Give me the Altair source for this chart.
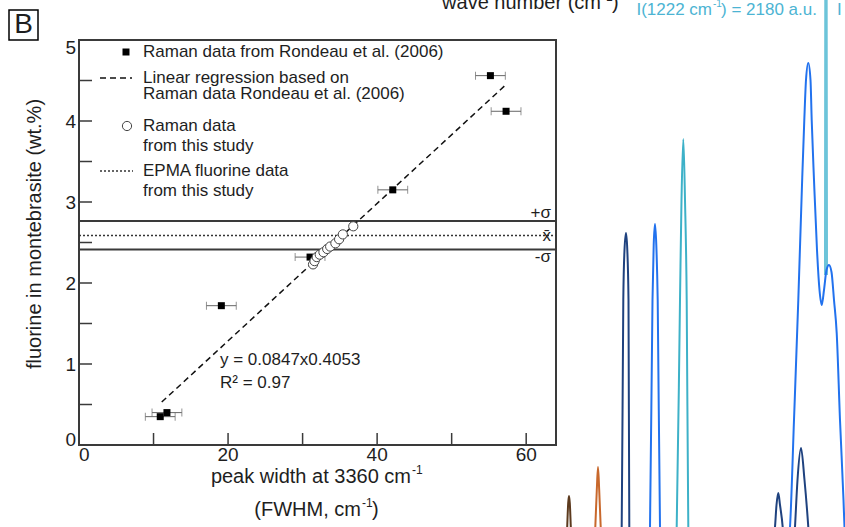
import altair as alt
import pandas as pd

FONT = "Liberation Sans"
INK = "#1e1e1e"

# ---------------- data ----------------
# Raman data from Rondeau et al. (2006)
rond_fwhm = [10.9, 11.8, 19.1, 31.0, 42.1, 55.2, 57.3]
rond_fluorine = [0.35, 0.40, 1.72, 2.32, 3.15, 4.56, 4.12]
rond_err = [2.0, 2.0, 2.0, 2.0, 2.0, 2.0, 2.0]

# Raman data from this study
study_fwhm = [31.4, 31.6, 31.9, 32.3, 32.8, 33.3, 33.7, 34.4, 34.9, 35.4, 36.8]
study_fluorine = [2.23, 2.27, 2.32, 2.35, 2.38, 2.42, 2.45, 2.49, 2.54, 2.60, 2.70]

# linear regression (end points as drawn)
reg_fwhm = [11.1, 57.3]
reg_fluorine = [0.53, 4.45]

# EPMA fluorine data: +sigma, mean, -sigma
epma_levels = [2.765, 2.585, 2.415]
epma_names = ["+σ", "x̄", "-σ"]

x_label_values = [0, 20, 40, 60]
x_tick_values = [10, 20, 30, 40, 50, 60]
y_label_values = [0, 1, 2, 3, 4, 5]
y_tick_values = [0.5, 1, 1.5, 2, 2.5, 3, 3.5, 4, 4.5]

# spectra visible at the right edge (wave number, intensity a.u.)
peak_brown_wn = [962.5, 963.2, 964.2, 965.0, 965.8, 966.8, 967.5]
peak_brown_int = [0, 36, 84, 98, 84, 36, 0]
peak_orange_wn = [990.5, 991.3, 992.8, 994.0, 995.2, 996.7, 997.5]
peak_orange_int = [0, 36, 110, 156, 110, 36, 0]
peak_navy_wn = [1017.0, 1017.7, 1019.3, 1020.5, 1022.0, 1023.3, 1024.5, 1025.3, 1026.0]
peak_navy_int = [0, 36, 490, 590, 624, 590, 490, 36, 0]
peak_blue_wn = [1045.3, 1046.0, 1048.5, 1049.7, 1051.0, 1052.3, 1053.7, 1056.0, 1056.7]
peak_blue_int = [0, 36, 490, 600, 642, 600, 490, 36, 0]
peak_cyan_wn = [1072.0, 1072.7, 1076.0, 1077.5, 1079.3, 1081.0, 1082.7, 1084.3, 1085.0]
peak_cyan_int = [0, 36, 490, 690, 812, 690, 490, 36, 0]
band_navy_wn = [1169, 1171, 1172.5, 1174.3, 1176, 1178.7, 1180, 1190, 1191, 1193.5, 1197, 1200.5, 1204.3, 1205.5]
band_navy_int = [0, 36, 80, 104, 80, 36, 0, 0, 36, 130, 194, 130, 36, 0]
band_blue_wn = [1184.5, 1186, 1190, 1194.3, 1198, 1200.3, 1202, 1204.3, 1206.5, 1207.7, 1210, 1213,
                1215.5, 1217.7, 1220, 1222.5, 1225, 1227.5, 1230, 1232.7, 1236, 1239.5, 1240.5, 1242]
band_blue_int = [0, 36, 250, 490, 720, 850, 930, 964, 930, 850, 730, 590,
                 510, 480, 510, 550, 560, 546, 490, 424, 250, 90, 36, 0]
band_cyan_wn = [1221.0, 1222.0, 1223.0]
band_cyan_int = [540, 2180, 540]

spec_names = ["brown", "orange", "navy", "blue", "cyan", "cyan2"]
spec_colors = ["#5c3a1e", "#c8682c", "#1f427f", "#2272ee", "#3db1c8", "#6cc4d9"]

# ---------------- layout ----------------
W, H = 477, 405
PAD = {"left": 79, "top": 40, "right": 289, "bottom": 82}

xs = alt.Scale(domain=[0, 64], nice=False, zero=False)
ys = alt.Scale(domain=[0, 5], nice=False, zero=False)

one = pd.DataFrame({"a": [0]})


def txt(s, x, y, size=17, align="left", baseline="middle", color=INK, angle=0):
    return alt.Chart(one).mark_text(
        text=s, align=align, baseline=baseline, font=FONT, fontSize=size,
        color=color, angle=angle
    ).encode(x=alt.value(x), y=alt.value(y))


# EPMA lines
sig_df = pd.DataFrame({"y": epma_levels, "name": epma_names})
sigma_lines = alt.Chart(sig_df[sig_df["name"] != "x̄"]).mark_rule(
    color="#3a3a3a", strokeWidth=2
).encode(y=alt.Y("y:Q", scale=ys, axis=None), x=alt.value(0), x2=alt.value(W))
mean_line = alt.Chart(sig_df[sig_df["name"] == "x̄"]).mark_rule(
    color="#333333", strokeWidth=1.5, strokeDash=[2, 2]
).encode(y=alt.Y("y:Q", scale=ys, axis=None), x=alt.value(0), x2=alt.value(W))

sig_labels = []
for name, lvl, dy in zip(epma_names, epma_levels, [-8, 0, 8]):
    sig_labels.append(
        alt.Chart(pd.DataFrame({"y": [lvl], "t": [name]})).mark_text(
            align="right", baseline="middle", font=FONT, fontSize=17, color=INK, dy=dy
        ).encode(y=alt.Y("y:Q", scale=ys, axis=None), x=alt.value(472), text="t:N")
    )

# regression
reg_df = pd.DataFrame({"x": reg_fwhm, "y": reg_fluorine})
reg_line = alt.Chart(reg_df).mark_line(color="#111111", strokeWidth=1.5, strokeDash=[6, 4]).encode(
    x=alt.X("x:Q", scale=xs, axis=None), y=alt.Y("y:Q", scale=ys, axis=None)
)

# error bars
rond_df = pd.DataFrame({"x": rond_fwhm, "y": rond_fluorine, "e": rond_err})
rond_df["lo"] = rond_df["x"] - rond_df["e"]
rond_df["hi"] = rond_df["x"] + rond_df["e"]
err_rule = alt.Chart(rond_df).mark_rule(color="#666666", strokeWidth=1).encode(
    x=alt.X("lo:Q", scale=xs, axis=None), x2="hi:Q", y=alt.Y("y:Q", scale=ys, axis=None)
)
cap_df = pd.DataFrame({"x": list(rond_df["lo"]) + list(rond_df["hi"]),
                       "y": rond_fluorine + rond_fluorine})
err_caps = alt.Chart(cap_df).mark_tick(orient="vertical", size=8, thickness=1, color="#666666").encode(
    x=alt.X("x:Q", scale=xs, axis=None), y=alt.Y("y:Q", scale=ys, axis=None)
)

squares = alt.Chart(rond_df).mark_square(size=49, color="#000000", opacity=1).encode(
    x=alt.X("x:Q", scale=xs, axis=None), y=alt.Y("y:Q", scale=ys, axis=None)
)

study_df = pd.DataFrame({"x": study_fwhm, "y": study_fluorine})
circles = alt.Chart(study_df).mark_point(
    shape="circle", size=85, filled=True, fill="white", stroke="#444444", strokeWidth=1, opacity=1
).encode(x=alt.X("x:Q", scale=xs, axis=None), y=alt.Y("y:Q", scale=ys, axis=None))

# inward ticks
xt = alt.Chart(pd.DataFrame({"x": x_tick_values})).mark_rule(color="#3a3a3a", strokeWidth=1.5).encode(
    x=alt.X("x:Q", scale=xs, axis=None), y=alt.value(H), y2=alt.value(H - 12)
)
yt = alt.Chart(pd.DataFrame({"y": y_tick_values})).mark_rule(color="#3a3a3a", strokeWidth=1.5).encode(
    y=alt.Y("y:Q", scale=ys, axis=None), x=alt.value(0), x2=alt.value(13)
)

# tick labels (first label flush with the axis end)
xl_df = pd.DataFrame({"x": x_label_values, "t": [str(v) for v in x_label_values]})
x_lab_first = alt.Chart(xl_df.iloc[[0]]).mark_text(
    align="left", baseline="top", font=FONT, fontSize=19, color=INK
).encode(x=alt.X("x:Q", scale=xs, axis=None), y=alt.value(H + 1), text="t:N")
x_lab_rest = alt.Chart(xl_df.iloc[1:]).mark_text(
    align="center", baseline="top", font=FONT, fontSize=19, color=INK
).encode(x=alt.X("x:Q", scale=xs, axis=None), y=alt.value(H + 1), text="t:N")

yl_df = pd.DataFrame({"y": y_label_values, "t": [str(v) for v in y_label_values]})
y_lab_mid = alt.Chart(yl_df.iloc[1:-1]).mark_text(
    align="right", baseline="middle", font=FONT, fontSize=19, color=INK, dy=1
).encode(y=alt.Y("y:Q", scale=ys, axis=None), x=alt.value(-3), text="t:N")
y_lab_bottom = alt.Chart(yl_df.iloc[[0]]).mark_text(
    align="right", baseline="alphabetic", font=FONT, fontSize=19, color=INK, dy=1
).encode(y=alt.Y("y:Q", scale=ys, axis=None), x=alt.value(-3), text="t:N")
y_lab_top = alt.Chart(yl_df.iloc[[-1]]).mark_text(
    align="right", baseline="alphabetic", font=FONT, fontSize=19, color=INK, dy=13.5
).encode(y=alt.Y("y:Q", scale=ys, axis=None), x=alt.value(-3), text="t:N")

# legend
leg = [
    alt.Chart(one).mark_square(size=49, color="#000000", opacity=1).encode(x=alt.value(47), y=alt.value(12)),
    alt.Chart(one).mark_rule(color="#111111", strokeWidth=1.5, strokeDash=[6, 4]).encode(
        x=alt.value(21), x2=alt.value(53), y=alt.value(38)),
    alt.Chart(one).mark_point(shape="circle", size=85, filled=True, fill="white", stroke="#444444",
                              strokeWidth=1, opacity=1).encode(x=alt.value(48), y=alt.value(86)),
    alt.Chart(one).mark_rule(color="#333333", strokeWidth=1.5, strokeDash=[2, 2]).encode(
        x=alt.value(21), x2=alt.value(54), y=alt.value(131)),
    txt("Raman data from Rondeau et al. (2006)", 64, 12),
    txt("Linear regression based on", 64, 38),
    txt("Raman data Rondeau et al. (2006)", 64, 54),
    txt("Raman data", 64, 86),
    txt("from this study", 64, 106),
    txt("EPMA fluorine data", 64, 131),
    txt("from this study", 64, 151),
]

annot = [
    txt("y = 0.0847x0.4053", 141, 320),
    txt("R² = 0.97", 141, 343),
    # axis titles
    txt("fluorine in montebrasite (wt.%)", -44, 194, size=20, align="center", angle=270),
    txt("peak width at 3360 cm", 332, 437, size=20, align="right"),
    txt("-1", 333, 430, size=12),
    txt("(FWHM, cm", 282, 470, size=20, align="right"),
    txt("-1", 283, 463, size=12),
    txt(")", 293, 470, size=20),
    # panel label
    alt.Chart(one).mark_rect(filled=False, stroke="#000000", strokeWidth=1.5).encode(
        x=alt.value(-70), x2=alt.value(-41), y=alt.value(-30), y2=alt.value(0)),
    txt("B", -55.5, -15, size=28, align="center"),
    # texts belonging to the neighbouring panel
    txt("wave number (cm", 522, -31, size=20, align="right", baseline="alphabetic"),
    txt("-1", 523, -39, size=12, baseline="alphabetic"),
    txt(")", 533, -31, size=20, baseline="alphabetic"),
    txt("I(1222 cm", 633, -30, size=17, align="right", color="#4cb4d3"),
    txt("-1", 634, -36, size=10, color="#4cb4d3"),
    txt(") = 2180 a.u.", 642, -30, size=17, color="#4cb4d3"),
    txt("I", 758, -30, size=17, color="#4cb4d3"),
]

main = alt.layer(
    sigma_lines, mean_line, *sig_labels, reg_line, err_rule, err_caps, squares, circles, xt, yt,
    x_lab_first, x_lab_rest, y_lab_mid, y_lab_bottom, y_lab_top,
    *leg, *annot
)

# spectra
rows = []
spectra = [
    ("brown", "p1", peak_brown_wn, peak_brown_int),
    ("orange", "p2", peak_orange_wn, peak_orange_int),
    ("navy", "p3", peak_navy_wn, peak_navy_int),
    ("blue", "p4", peak_blue_wn, peak_blue_int),
    ("cyan", "p5", peak_cyan_wn, peak_cyan_int),
    ("navy", "p6", band_navy_wn, band_navy_int),
    ("cyan2", "p7", band_cyan_wn, band_cyan_int),
    ("blue", "p8", band_blue_wn, band_blue_int),
]
for order, (nm, pid, wn, it) in enumerate(spectra):
    for w, i in zip(wn, it):
        rows.append({"spec": nm, "peak": pid, "wn": w, "inten": i, "ord": order})
spec_df = pd.DataFrame(rows)

peaks = alt.Chart(spec_df).mark_line(interpolate="monotone", strokeWidth=2).encode(
    x=alt.X("wn:Q", scale=alt.Scale(domain=[950, 1250], range=[475, 775], nice=False, zero=False), axis=None),
    y=alt.Y("inten:Q", scale=alt.Scale(domain=[0, 1000], range=[505, 5], nice=False, zero=False), axis=None),
    color=alt.Color("spec:N", scale=alt.Scale(domain=spec_names, range=spec_colors), legend=None),
    detail="peak:N",
)

chart = alt.layer(peaks, main).resolve_scale(x="independent", y="independent").properties(
    width=W, height=H, padding=PAD, autosize=alt.AutoSizeParams(type="none"), background="white"
).configure_view(stroke="#3a3a3a", strokeWidth=2)

chart.save("out.html", embed_options={"renderer": "svg", "actions": False})
